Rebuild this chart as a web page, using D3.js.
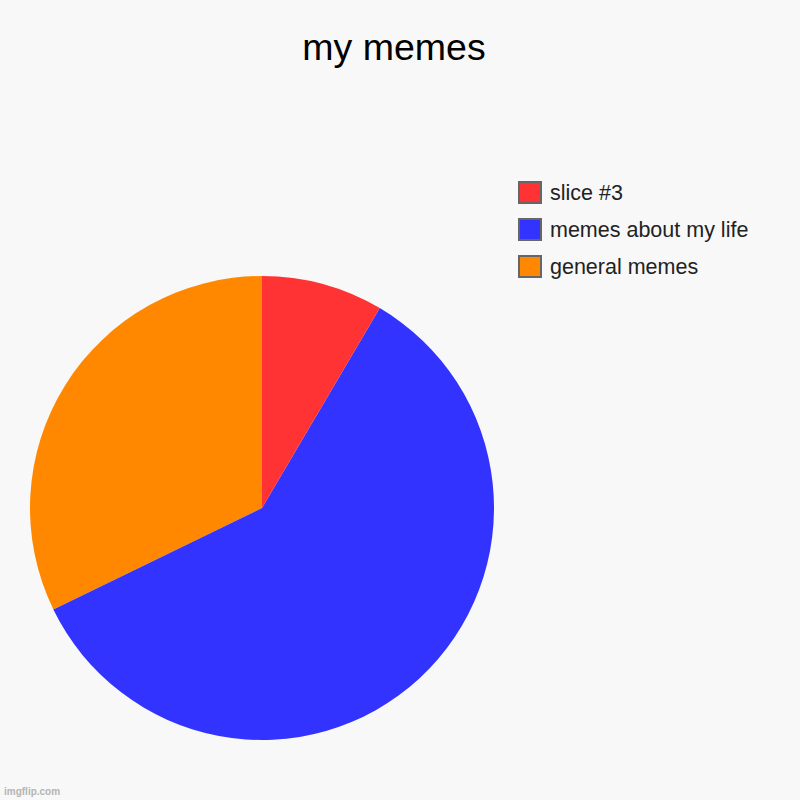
<!DOCTYPE html>
<html>
<head>
<meta charset="utf-8">
<script src="https://cdn.jsdelivr.net/npm/d3@7"></script>
<style>
  html, body { margin: 0; padding: 0; background: #f8f8f8; }
  svg { display: block; font-family: "Liberation Sans", Arial, sans-serif; }
</style>
</head>
<body>
<svg id="chart"></svg>
<script>
const categories = ['general memes', 'memes about my life', 'slice #3'];
const values = [19, 35, 5];
const colors = ['#ff8800', '#3333ff', '#ff3333'];

const width = 800;
const height = 800;
const radius = 232;

const svg = d3.select('#chart')
  .attr('width', width)
  .attr('height', height);

svg.append('rect')
  .attr('width', width)
  .attr('height', height)
  .attr('fill', '#f8f8f8');

svg.append('text')
  .attr('x', 394)
  .attr('y', 60)
  .attr('text-anchor', 'middle')
  .style('font-size', '37.5px')
  .attr('fill', '#000')
  .text('my memes');

const data = categories.map((name, i) => ({ name, value: values[i], color: colors[i] }));

// counter-clockwise from 12 o'clock, first slice first
const pie = d3.pie().sort(null).value((d) => d.value)
  .startAngle(0).endAngle(-2 * Math.PI);

const arc = d3.arc().innerRadius(0).outerRadius(radius);

const g = svg.append('g')
  .attr('transform', `translate(262, 508)`);

g.selectAll('path')
  .data(pie(data))
  .enter()
  .append('path')
  .attr('d', arc)
  .attr('fill', (d) => d.data.color);

// legend, reversed order
const legend = svg.append('g')
  .attr('transform', 'translate(519, 182)');

const rows = legend.selectAll('g')
  .data(data.slice().reverse())
  .enter()
  .append('g')
  .attr('transform', (d, i) => `translate(0, ${i * 37})`);

rows.append('rect')
  .attr('width', 22)
  .attr('height', 21)
  .attr('fill', (d) => d.color)
  .attr('stroke', '#666')
  .attr('stroke-width', 2);

rows.append('text')
  .attr('x', 31)
  .attr('y', 17.5)
  .style('font-size', '21.5px')
  .attr('fill', '#222')
  .text((d) => d.name);

svg.append('text')
  .attr('x', 4)
  .attr('y', 795)
  .style('font-size', '10px')
  .style('font-weight', 'bold')
  .attr('fill', '#b4b4b4')
  .text('imgflip.com');
</script>
</body>
</html>
